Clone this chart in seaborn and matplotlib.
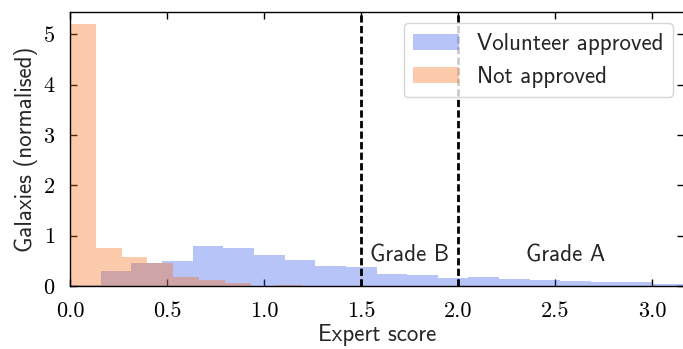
import numpy as np
import pandas as pd
import matplotlib
matplotlib.use("Agg")
import matplotlib.pyplot as plt
import seaborn as sns

# Normalised histogram heights per expert-score bin
approved_start = 0.0
approved_width = 0.158
approved_heights = [0.02, 0.30, 0.46, 0.49, 0.79, 0.75, 0.61, 0.51, 0.40, 0.38,
                    0.24, 0.21, 0.16, 0.17, 0.13, 0.11, 0.09, 0.08, 0.08, 0.04]

rejected_start = 0.0
rejected_width = 0.133
rejected_heights = [5.20, 0.76, 0.57, 0.45, 0.18, 0.12, 0.06, 0.005, 0.01]

grade_cuts = [1.5, 2.0]
grade_labels = ["Grade B", "Grade A"]
grade_label_x = [1.75, 2.555]
grade_label_y = 0.48

xticks = [0.0, 0.5, 1.0, 1.5, 2.0, 2.5, 3.0]
yticks = [0, 1, 2, 3, 4, 5]

SANS = 16.5
SERIF = 16


def to_frame(start, width, heights):
    edges = start + width * np.arange(len(heights) + 1)
    centres = 0.5 * (edges[:-1] + edges[1:])
    return pd.DataFrame({"score": centres, "weight": heights}), [float(e) for e in edges]


sns.set_style("ticks")
plt.rcParams.update({
    "font.family": ["cmss10", "DejaVu Sans"],
    "axes.unicode_minus": False,
    "font.size": SANS,
    "axes.linewidth": 1.0,
    "xtick.direction": "in",
    "ytick.direction": "in",
    "xtick.top": True,
    "ytick.right": True,
    "xtick.major.size": 5,
    "ytick.major.size": 5,
    "xtick.major.width": 1.0,
    "ytick.major.width": 1.0,
    "xtick.color": "black",
    "ytick.color": "black",
    "axes.edgecolor": "black",
})

fig = plt.figure(figsize=(6.83, 3.49), dpi=100)
ax = fig.add_axes([70 / 683, 63 / 349, 614 / 683, 274 / 349])

approved_df, approved_edges = to_frame(approved_start, approved_width, approved_heights)
rejected_df, rejected_edges = to_frame(rejected_start, rejected_width, rejected_heights)

sns.histplot(data=approved_df, x="score", weights="weight", bins=approved_edges,
             stat="count", color=(49 / 255, 86 / 255, 235 / 255), alpha=0.35,
             linewidth=0, label="Volunteer approved", ax=ax)
sns.histplot(data=rejected_df, x="score", weights="weight", bins=rejected_edges,
             stat="count", color=(249 / 255, 106 / 255, 18 / 255), alpha=0.35,
             linewidth=0, label="Not approved", ax=ax)

for cut in grade_cuts:
    ax.axvline(cut, color="black", linestyle=(0, (2.6, 1.2)), linewidth=2.0)

for label, gx in zip(grade_labels, grade_label_x):
    ax.text(gx, grade_label_y, label, ha="center", va="baseline", fontsize=SANS)

ax.set_xlim(0, 3.165)
ax.set_ylim(0, 5.44)
ax.set_xticks(xticks)
ax.set_yticks(yticks)
ax.set_xticklabels([f"{t:.1f}" for t in xticks], fontfamily="cmr10", fontsize=SERIF)
ax.set_yticklabels([str(t) for t in yticks], fontfamily="cmr10", fontsize=SERIF)
ax.tick_params(axis="both", which="major", pad=11)

ax.set_xlabel("Expert score", fontsize=SANS, labelpad=2.5)
ax.set_ylabel("Galaxies (normalised)", fontsize=SANS, labelpad=4)

ax.legend(loc="upper right", fontsize=SANS)

fig.savefig("out.png", dpi=100)
